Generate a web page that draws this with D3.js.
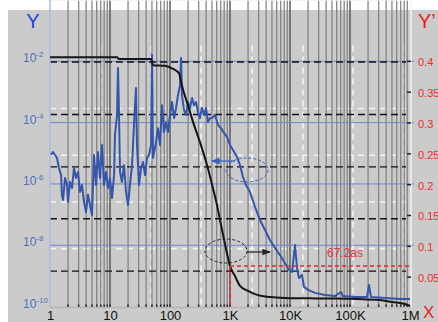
<!DOCTYPE html>
<html>
<head>
<meta charset="utf-8">
<script src="https://cdn.jsdelivr.net/npm/d3@7/dist/d3.min.js"></script>
<style>
  body { margin: 0; background: #fff; }
  text { font-family: "Liberation Sans", Arial, sans-serif; }
</style>
</head>
<body>
<script>
// axis ticks
var freqTicks = [1, 10, 100, 1e3, 1e4, 1e5, 1e6];
var freqLabels = ["1", "10", "100", "1K", "10K", "100K", "1M"];
var yTicks = [1e-2, 1e-4, 1e-6, 1e-8, 1e-10];
var yTickExp = ["-2", "-4", "-6", "-8", "-10"];
var y2Ticks = [0.05, 0.1, 0.15, 0.2, 0.25, 0.3, 0.35, 0.4];

// blue series (left log axis)
var blueFreq = [1.04, 1.12, 1.31, 1.41, 1.53, 1.58, 1.65, 1.78, 1.92, 2.0, 2.15, 2.33, 2.51, 2.71, 2.93, 3.16, 3.41, 3.69, 3.98, 4.3,
  4.64, 5.01, 5.41, 5.84, 6.31, 6.81, 7.36, 7.94, 8.58, 9.26, 10, 10.8, 11.7, 12.1, 13.1, 13.6, 14.1, 14.7, 15.8, 17.1,
  18.5, 20, 21.5, 23.3, 25.1, 27.1, 28.2, 30.4, 32.9, 35.5, 38.3, 41.4, 44.7, 48.3, 50.1, 52.1, 58.4, 63.1, 68.1, 73.6,
  79.4, 85.8, 92.6, 100, 108, 117, 126, 136, 147, 153, 158, 171, 185, 200, 215, 233, 251, 271, 293, 316,
  341, 369, 398, 430, 464, 501, 562, 631, 708, 794, 891, 1000, 1122, 1309, 1468, 1648, 1848, 2154, 2610, 3162,
  3831, 4642, 5623, 6813, 8254, 9624, 10800, 12115, 13090, 14125, 15849, 17113, 19953, 26102, 38312, 56234, 70795, 76420, 121153, 191907,
  207332, 223872, 383119, 681292, 1e6];
var blueVal = [8.8e-6, 1.1e-5, 7.0e-6, 3.3e-6, 1.95e-6, 4.4e-7, 3.0e-7, 1.56e-6, 9.2e-7, 2.6e-7, 1.16e-6, 7.4e-7, 3.3e-6, 1.56e-6, 2.45e-6, 5.5e-7, 9.2e-7, 2.6e-7, 1.2e-7, 4.4e-7,
  2.06e-7, 9.7e-8, 8.8e-6, 9.2e-7, 1.1e-5, 1.56e-6, 1.86e-5, 9.2e-7, 2.45e-6, 7.4e-7, 1.56e-6, 3.5e-7, 1.95e-6, 3.9e-5, 1.77e-4, 6.0e-3, 2.2e-4, 2.45e-6, 1.16e-6, 4.1e-6,
  5.5e-7, 2.06e-7, 9.2e-7, 4.1e-6, 8.3e-5, 1.34e-3, 1.86e-5, 9.2e-7, 3.3e-6, 5.2e-6, 1.95e-6, 7.0e-6, 8.8e-6, 1.86e-5, 1.6e-2, 7.0e-6, 2.3e-5, 6.6e-5, 1.86e-5, 3.7e-4,
  4.9e-5, 1.04e-4, 4.9e-5, 1.77e-4, 4.7e-4, 1.4e-4, 3.0e-4, 7.9e-4, 1.68e-3, 1.28e-2, 7.9e-4, 2.6e-4, 1.77e-4, 4.7e-4, 3.0e-4, 6.3e-4, 3.7e-4, 4.7e-4, 2.2e-4, 1.4e-4,
  3.0e-4, 1.77e-4, 3.0e-4, 1.04e-4, 1.4e-4, 1.4e-4, 1.77e-4, 8.3e-5, 6.6e-5, 4.6e-5, 3.4e-5, 1.86e-5, 1.28e-5, 7.6e-6, 4.1e-6, 1.68e-6, 9.2e-7, 5.5e-7, 1.77e-7, 6.7e-8,
  3.15e-8, 1.49e-8, 8.1e-9, 4.8e-9, 2.6e-9, 1.56e-9, 1.34e-9, 1.02e-8, 1.82e-9, 8.6e-10, 1.07e-9, 4.4e-10, 3.5e-10, 2.8e-10, 2.4e-10, 2.2e-10, 3.0e-10, 2.2e-10, 2.06e-10, 2.06e-10,
  5.1e-10, 2.06e-10, 1.9e-10, 1.77e-10, 1.77e-10];

// black series (right linear axis)
var blackFreq = [1, 13.1, 14.1, 48.3, 52.1, 82.5, 112, 141, 153, 165, 192, 242, 316, 414, 521, 607, 681, 825, 1000, 1211,
  1468, 1995, 2929, 4642, 10000, 46416, 135936, 316228, 501187, 825404, 1e6];
var blackVal = [0.406, 0.406, 0.403, 0.403, 0.393, 0.392, 0.387, 0.380, 0.366, 0.353, 0.333, 0.301, 0.268, 0.231, 0.193, 0.166, 0.142, 0.103, 0.0672, 0.051,
  0.035, 0.027, 0.020, 0.017, 0.015, 0.0146, 0.0138, 0.0122, 0.0089, 0.0057, 0.0024];

// marker
var markFreq = 1000;
var markVal = 0.0672;
var markLabel = "67.2as";

// overlay grids (right axis units / frequency)
var blackDashH = [0.398, 0.313, 0.228, 0.144, 0.059];
var whiteDashH = [0.3227, 0.247, 0.171, 0.0955];
var whiteDashV = [7.08, 48.3, 329, 2326, 16475, 112202, 794328];

var w = 438, h = 322;

var svg = d3.select("body").append("svg")
  .attr("width", w)
  .attr("height", h);

var x = d3.scaleLog().domain([1, 1e6]).range([50, 410]);
var yL = d3.scaleLog().domain([1e-10, 1e-1]).range([306.6, 30.6]);
var yR = d3.scaleLinear().domain([0, 0.45]).range([307.5, 30]);

var left = x(1), right = 411, top = yR(0.45), bottom = 307.5;

svg.append("defs").html(
  '<marker id="ab" viewBox="0 0 10 10" refX="9" refY="5" markerWidth="7" markerHeight="7" orient="auto"><path d="M0,1L10,5L0,9Z" fill="#3a5fc0"/></marker>' +
  '<marker id="ak" viewBox="0 0 10 10" refX="9" refY="5" markerWidth="7" markerHeight="7" orient="auto"><path d="M0,1L10,5L0,9Z" fill="#222"/></marker>');

// gray panel
svg.append("rect")
  .attr("x", 8).attr("y", 10)
  .attr("width", w - 8).attr("height", h - 10)
  .attr("fill", "#cbcbcb");

// white dashed overlay grid
svg.selectAll(".wdv").data(whiteDashV).enter().append("line")
  .attr("x1", function(d) { return x(d); })
  .attr("x2", function(d) { return x(d); })
  .attr("y1", yR(0.425)).attr("y2", bottom)
  .attr("stroke", "#f4f4f4").attr("stroke-width", 1.6)
  .attr("stroke-dasharray", "6,5");

svg.selectAll(".wdh").data(whiteDashH).enter().append("line")
  .attr("x1", left).attr("x2", 406)
  .attr("y1", function(d) { return yR(d); })
  .attr("y2", function(d) { return yR(d); })
  .attr("stroke", "#f4f4f4").attr("stroke-width", 1.6)
  .attr("stroke-dasharray", "6,5");

// vertical gray grid
var vt = x.ticks().filter(function(d) { return d > 1 && d < 1e6; });
var isDecade = function(d) { return Math.abs(Math.log10(d) - Math.round(Math.log10(d))) < 1e-6; };

svg.selectAll(".vg").data(vt).enter().append("line")
  .attr("x1", function(d) { return x(d); })
  .attr("x2", function(d) { return x(d); })
  .attr("y1", top).attr("y2", bottom)
  .attr("stroke", function(d) { return isDecade(d) ? "#5a5a5a" : "#858585"; })
  .attr("stroke-width", function(d) { return isDecade(d) ? 1.5 : 1.3; });

// small tick marks top and bottom
svg.selectAll(".tt").data(vt).enter().append("line")
  .attr("x1", function(d) { return x(d); })
  .attr("x2", function(d) { return x(d); })
  .attr("y1", top).attr("y2", top + 3)
  .attr("stroke", "#222").attr("stroke-width", 1.5);
svg.selectAll(".bt").data(vt).enter().append("line")
  .attr("x1", function(d) { return x(d); })
  .attr("x2", function(d) { return x(d); })
  .attr("y1", bottom - 3).attr("y2", bottom)
  .attr("stroke", "#222").attr("stroke-width", 1.5);

// blue solid grid (left axis)
svg.selectAll(".bg").data(yTicks.slice(0, 4)).enter().append("line")
  .attr("x1", left).attr("x2", 414)
  .attr("y1", function(d) { return yL(d); })
  .attr("y2", function(d) { return yL(d); })
  .attr("stroke", "#7088c8").attr("stroke-width", 1);

// black dashed grid
svg.selectAll(".kd").data(blackDashH).enter().append("line")
  .attr("x1", left).attr("x2", 406)
  .attr("y1", function(d) { return yR(d); })
  .attr("y2", function(d) { return yR(d); })
  .attr("stroke", "#111").attr("stroke-width", 1.4)
  .attr("stroke-dasharray", "7,4");

// frame
svg.append("line").attr("x1", left).attr("x2", right).attr("y1", top).attr("y2", top)
  .attr("stroke", "#f0f0f0").attr("stroke-width", 1.5);
svg.append("line").attr("x1", right).attr("x2", right).attr("y1", top).attr("y2", bottom)
  .attr("stroke", "#f4f4f4").attr("stroke-width", 1.5);
svg.append("line").attr("x1", left).attr("x2", left).attr("y1", top).attr("y2", bottom)
  .attr("stroke", "#a9b9e0").attr("stroke-width", 1.5);
svg.append("line").attr("x1", left).attr("x2", right).attr("y1", bottom).attr("y2", bottom)
  .attr("stroke", "#b5b5b5").attr("stroke-width", 1.5);

// right axis
var axR = svg.append("g")
  .attr("transform", "translate(" + right + ",0)")
  .call(d3.axisRight(yR).tickValues(y2Ticks).tickSize(-4).tickPadding(7)
    .tickFormat(function(d) { return String(+d.toFixed(2)); }));
axR.select(".domain").remove();
axR.selectAll("line").attr("stroke", "#222").attr("stroke-width", 1.5);
axR.selectAll("text").attr("fill", "#ee2a2a").attr("font-size", 11)
  .attr("font-family", "Liberation Sans, Arial, sans-serif").attr("dy", "0.45em");

// bottom axis
var axB = svg.append("g")
  .attr("transform", "translate(0," + bottom + ")")
  .call(d3.axisBottom(x).tickValues(freqTicks).tickSize(0).tickPadding(3)
    .tickFormat(function(d, i) { return freqLabels[i]; }));
axB.select(".domain").remove();
axB.selectAll("text").attr("fill", "#111").attr("font-size", 13)
  .attr("font-family", "Liberation Sans, Arial, sans-serif");

// left labels
var ll = svg.selectAll(".yl").data(yTicks).enter().append("text")
  .attr("x", 23)
  .attr("y", function(d) { return yL(d) + 1; })
  .attr("fill", "#4f6fb8")
  .attr("font-size", 12);
ll.append("tspan").text("10");
ll.append("tspan").attr("dy", -5).attr("font-size", 8)
  .text(function(d, i) { return yTickExp[i]; });

// curves
var blueLine = d3.line()
  .x(function(d, i) { return x(blueFreq[i]); })
  .y(function(d, i) { return yL(blueVal[i]); });
svg.append("path").attr("d", blueLine(blueVal))
  .attr("fill", "none").attr("stroke", "#3455aa").attr("stroke-width", 2)
  .attr("stroke-linejoin", "round");

var blackLine = d3.line()
  .x(function(d, i) { return x(blackFreq[i]); })
  .y(function(d, i) { return yR(blackVal[i]); })
  .curve(d3.curveMonotoneX);
svg.append("path").attr("d", blackLine(blackVal))
  .attr("fill", "none").attr("stroke", "#151515").attr("stroke-width", 2);

// marker lines
svg.append("line")
  .attr("x1", x(markFreq)).attr("x2", right)
  .attr("y1", yR(markVal)).attr("y2", yR(markVal))
  .attr("stroke", "#e8242c").attr("stroke-width", 1.5).attr("stroke-dasharray", "4,3");
svg.append("line")
  .attr("x1", x(markFreq)).attr("x2", x(markFreq))
  .attr("y1", yR(markVal)).attr("y2", bottom)
  .attr("stroke", "#e8242c").attr("stroke-width", 1.5).attr("stroke-dasharray", "4,3");
svg.append("text")
  .attr("x", x(82540)).attr("y", yR(0.082))
  .attr("text-anchor", "middle")
  .attr("fill", "#e8343a").attr("font-size", 12)
  .text(markLabel);

// annotations
svg.append("ellipse")
  .attr("cx", x(1920)).attr("cy", yR(0.223)).attr("rx", 21).attr("ry", 12)
  .attr("fill", "none").attr("stroke", "#3a5fc0").attr("stroke-width", 1)
  .attr("stroke-dasharray", "3,2");
svg.append("line")
  .attr("x1", x(1211)).attr("x2", x(501))
  .attr("y1", yR(0.2375)).attr("y2", yR(0.2375))
  .attr("stroke", "#3a5fc0").attr("stroke-width", 1.2)
  .attr("marker-end", "url(#ab)");

svg.append("ellipse")
  .attr("cx", x(858)).attr("cy", yR(0.0916)).attr("rx", 21).attr("ry", 12)
  .attr("fill", "none").attr("stroke", "#222").attr("stroke-width", 1)
  .attr("stroke-dasharray", "3,2");
svg.append("line")
  .attr("x1", x(1920)).attr("x2", x(4642))
  .attr("y1", yR(0.09)).attr("y2", yR(0.09))
  .attr("stroke", "#222").attr("stroke-width", 1.2)
  .attr("marker-end", "url(#ak)");

// axis titles
svg.append("text").attr("x", 33).attr("y", 28).attr("text-anchor", "middle")
  .attr("fill", "#2244dd").attr("font-size", 20).text("Y");
svg.append("text").attr("x", 418).attr("y", 28)
  .attr("fill", "#e82020").attr("font-size", 20).text("Y\u2019");
svg.append("text").attr("x", 423).attr("y", 318)
  .attr("fill", "#e82020").attr("font-size", 17).text("X");
</script>
</body>
</html>
